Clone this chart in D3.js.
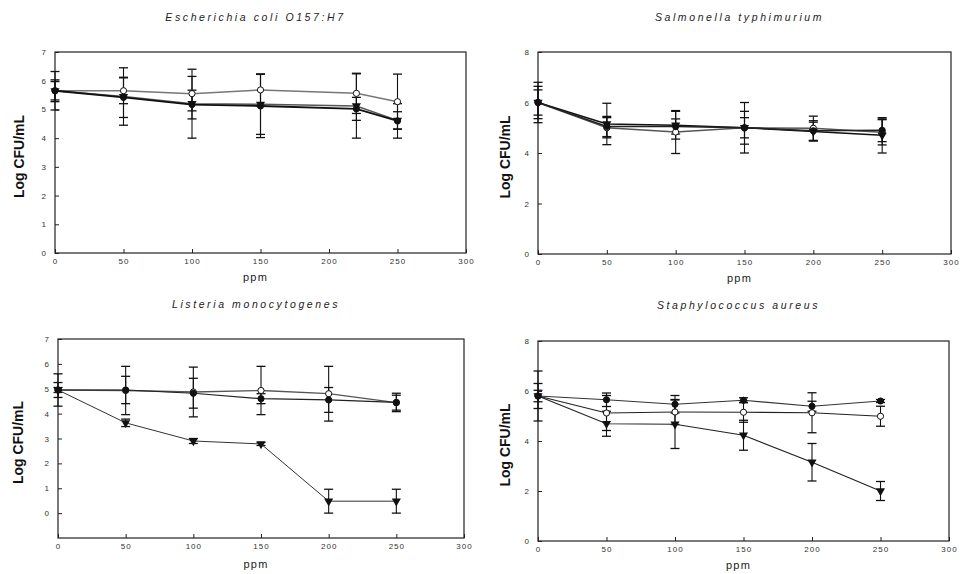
<!DOCTYPE html>
<html><head><meta charset="utf-8">
<script src="https://cdn.jsdelivr.net/npm/d3@7"></script>
<style>
html,body{margin:0;padding:0;background:#fff;}
svg{display:block;font-family:"Liberation Sans",Arial,sans-serif;}
</style></head>
<body>
<svg id="chart" width="960" height="574"></svg>
<script>
// ---------- data ----------
const titles = ["Escherichia coli O157:H7","Salmonella typhimurium","Listeria monocytogenes","Staphylococcus aureus"];
const xEcoli = [0,50,100,150,220,250];
const xStd = [0,50,100,150,200,250];
const xTicks = [0,50,100,150,200,250,300];
const yTicks78 = [0,1,2,3,4,5,6,7];
const yTicks8 = [0,2,4,6,8];

// E. coli
const ecoliFilled = [5.65,5.42,5.17,5.12,5.02,4.60];
const ecoliFilledErr = [0.32,0.70,0.50,1.10,0.40,0.60];
const ecoliOpen = [5.65,5.65,5.55,5.68,5.56,5.27];
const ecoliOpenErr = [0.67,0.45,0.60,0.55,0.70,0.96];
const ecoliTri = [5.65,5.45,5.20,5.18,5.12,4.62];
const ecoliTriErr = [0.38,1.00,1.20,1.05,1.12,0.30];
// Salmonella
const salFilled = [6.00,5.05,5.05,5.00,4.88,4.90];
const salFilledErr = [0.64,0.40,0.30,0.65,0.40,0.45];
const salOpen = [6.00,5.00,4.83,5.00,4.98,4.82];
const salOpenErr = [0.80,0.40,0.85,0.40,0.48,0.50];
const salTri = [6.00,5.15,5.10,5.00,4.85,4.70];
const salTriErr = [0.50,0.82,0.55,1.00,0.37,0.70];
// Listeria
const lisFilled = [4.95,4.95,4.82,4.60,4.55,4.45];
const lisFilledErr = [0.65,0.55,0.60,0.20,0.50,0.37];
const lisOpen = [4.95,4.93,4.87,4.93,4.80,4.44];
const lisOpenErr = [0.30,0.97,1.00,0.97,1.10,0.30];
const lisTri = [4.95,3.63,2.90,2.78,0.48,0.48];
const lisTriErr = [0.10,0.15,0.10,0.06,0.48,0.48];
// Staphylococcus
const staFilled = [5.80,5.65,5.47,5.63,5.39,5.60];
const staFilledErr = [0.23,0.27,0.35,0.10,0.20,0.06];
const staOpen = [5.80,5.12,5.16,5.15,5.13,4.99];
const staOpenErr = [1.00,0.70,0.50,0.40,0.80,0.40];
const staTri = [5.80,4.69,4.67,4.23,3.15,2.00];
const staTriErr = [0.50,0.50,0.97,0.60,0.75,0.38];

// ---------- layout ----------
const panels = [
  {title:titles[0], x:xEcoli, yDomain:[0,7], yTicks:yTicks78,
   rect:{l:55,r:466,t:52,b:253}, titleY:21, ylabX:19, xlabY:281,
   series:[{v:ecoliOpen,e:ecoliOpenErr,sym:"open",line:"#777",lw:1.5},
           {v:ecoliTri,e:ecoliTriErr,sym:"tri",line:"#555",lw:1.5},
           {v:ecoliFilled,e:ecoliFilledErr,sym:"filled",line:"#111",lw:1.8}]},
  {title:titles[1], x:xStd, yDomain:[0,8], yTicks:yTicks8,
   rect:{l:538,r:951,t:52,b:254}, titleY:21, ylabX:505, xlabY:282,
   series:[{v:salOpen,e:salOpenErr,sym:"open",line:"#555",lw:1.5},
           {v:salTri,e:salTriErr,sym:"tri",line:"#111",lw:1.5},
           {v:salFilled,e:salFilledErr,sym:"filled",line:"#222",lw:1.5}]},
  {title:titles[2], x:xStd, yDomain:[-1,7], yTicks:yTicks78,
   rect:{l:58,r:464,t:339,b:538}, titleY:308, ylabX:18, xlabY:568,
   series:[{v:lisOpen,e:lisOpenErr,sym:"open",line:"#555",lw:1.3},
           {v:lisFilled,e:lisFilledErr,sym:"filled",line:"#222",lw:1.2},
           {v:lisTri,e:lisTriErr,sym:"tri",line:"#333",lw:1}]},
  {title:titles[3], x:xStd, yDomain:[0,8], yTicks:yTicks8,
   rect:{l:538,r:949,t:341,b:541}, titleY:309, ylabX:505, xlabY:569,
   series:[{v:staOpen,e:staOpenErr,sym:"open",line:"#222",lw:1.2},
           {v:staFilled,e:staFilledErr,sym:"filled",line:"#333",lw:1.2},
           {v:staTri,e:staTriErr,sym:"tri",line:"#222",lw:1.2}]}
];

const svg = d3.select("#chart");

panels.forEach(p => {
  const R = p.rect;
  const x = d3.scaleLinear().domain([0,300]).range([R.l,R.r]);
  const y = d3.scaleLinear().domain(p.yDomain).range([R.b,R.t]);
  const g = svg.append("g");
  const cx = (R.l+R.r)/2 - 5;

  // title
  g.append("text").attr("x",cx).attr("y",p.titleY).attr("text-anchor","middle")
    .attr("font-size","10.5px").attr("font-style","italic").attr("letter-spacing","2.6px")
    .attr("fill","#222").text(p.title);

  // frame
  g.append("rect").attr("x",R.l).attr("y",R.t).attr("width",R.r-R.l).attr("height",R.b-R.t)
    .attr("fill","none").attr("stroke","#222").attr("stroke-width",1.2);

  // axes
  const fmt = d3.format("d");
  const xa = d3.axisBottom(x).tickValues(xTicks).tickFormat(fmt).tickSizeInner(-4).tickSizeOuter(0).tickPadding(5);
  const ya = d3.axisLeft(y).tickValues(p.yTicks).tickFormat(fmt).tickSizeInner(-4).tickSizeOuter(0).tickPadding(8);
  const gx = g.append("g").attr("transform",`translate(0,${R.b})`).call(xa);
  const gy = g.append("g").attr("transform",`translate(${R.l},0)`).call(ya);
  [gx,gy].forEach(a=>{
    a.select(".domain").remove();
    a.selectAll("line").attr("stroke","#222");
    a.selectAll("text").attr("font-size","8px").attr("letter-spacing","1px")
      .attr("fill","#333").attr("font-family","'Liberation Sans',Arial,sans-serif");
  });

  // axis titles
  g.append("text").attr("transform",`translate(${p.ylabX},${(R.t+R.b)/2 + 4}) rotate(-90)`)
    .attr("text-anchor","middle").attr("dy","0.35em").attr("font-size","14px").attr("font-weight","bold")
    .attr("fill","#111").text("Log CFU/mL");
  g.append("text").attr("x",cx).attr("y",p.xlabY).attr("text-anchor","middle")
    .attr("font-size","11px").attr("letter-spacing","1.2px").attr("fill","#222").text("ppm");

  // error bars
  p.series.forEach(s=>{
    s.v.forEach((v,i)=>{
      const px = x(p.x[i]);
      const lo = y(v - s.e[i]), hi = y(v + s.e[i]);
      g.append("line").attr("x1",px).attr("x2",px).attr("y1",lo).attr("y2",hi)
        .attr("stroke","#111").attr("stroke-width",1.1);
      [lo,hi].forEach(yy=>g.append("line").attr("x1",px-4.5).attr("x2",px+4.5)
        .attr("y1",yy).attr("y2",yy).attr("stroke","#111").attr("stroke-width",1.3));
    });
  });
  // lines
  p.series.forEach(s=>{
    const line = d3.line().x((d,i)=>x(p.x[i])).y(d=>y(d));
    g.append("path").datum(s.v).attr("d",line).attr("fill","none")
      .attr("stroke",s.line).attr("stroke-width",s.lw);
  });
  // markers
  p.series.forEach(s=>{
    s.v.forEach((v,i)=>{
      const px = x(p.x[i]), py = y(v);
      if (s.sym==="tri") {
        g.append("path").attr("d",d3.symbol(d3.symbolTriangle,36)()).attr("transform",`translate(${px},${py}) rotate(180)`)
          .attr("fill","#111");
      } else {
        g.append("circle").attr("cx",px).attr("cy",py).attr("r",3.1)
          .attr("fill",s.sym==="open"?"#fff":"#111").attr("stroke","#111").attr("stroke-width",1);
      }
    });
  });
});
</script>
</body></html>
